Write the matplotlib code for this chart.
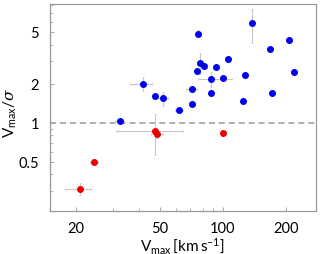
import matplotlib
matplotlib.use("Agg")
import matplotlib.pyplot as plt
from matplotlib.ticker import FixedLocator, FixedFormatter, LogLocator, NullFormatter

plt.rcParams["font.family"] = ["Lato", "DejaVu Sans"]
plt.rcParams["mathtext.fontset"] = "custom"
plt.rcParams["mathtext.rm"] = "Lato"
plt.rcParams["mathtext.it"] = "DejaVu Serif:italic"
plt.rcParams["mathtext.sf"] = "Lato"

blue_x = [32.2, 41.4, 47.6, 52.0, 61.9, 70.9, 70.9, 75.4, 76.5, 77.4, 81.5, 87.9, 87.3, 92.6,
          100.3, 105.2, 125.3, 127.3, 137.5, 167.4, 171.2, 206.9, 217.9]
blue_y = [1.03, 1.99, 1.61, 1.54, 1.26, 1.40, 1.81, 2.51, 4.84, 2.86, 2.74, 2.17, 1.69, 2.68,
          2.21, 3.09, 1.48, 2.34, 5.82, 3.73, 1.70, 4.33, 2.48]
blue_xlo = [1.5, 5.5, 0.8, 3.0, 3.0, 1.0, 4.0, 0.5, 0.5, 0.5, 0.5, 11.6, 0.5, 0.5,
            0.5, 0.5, 0.5, 0.5, 0.5, 5.0, 0.5, 0.5, 0.5]
blue_xhi = [1.5, 4.5, 0.8, 3.0, 3.0, 1.0, 4.0, 0.5, 0.5, 0.5, 0.5, 23.0, 0.5, 0.5,
            0.5, 0.5, 0.5, 0.5, 0.5, 5.0, 0.5, 0.5, 0.5]
blue_ylo = [0.04, 0.24, 0.03, 0.20, 0.03, 0.03, 0.10, 0.05, 0.25, 0.50, 0.03, 0.30, 0.03, 0.03,
            0.03, 0.03, 0.03, 0.03, 1.70, 0.10, 0.03, 0.03, 0.03]
blue_yhi = [0.04, 0.28, 0.03, 0.20, 0.03, 0.03, 0.10, 0.05, 0.30, 0.60, 0.03, 0.30, 0.03, 0.03,
            0.03, 0.03, 0.03, 0.03, 1.70, 0.10, 0.03, 0.03, 0.03]

red_x = [20.8, 24.3, 47.6, 48.6, 100.0]
red_y = [0.307, 0.499, 0.868, 0.814, 0.838]
red_xlo = [3.2, 1.0, 16.6, 3.0, 2.5]
red_xhi = [2.7, 1.0, 16.9, 3.0, 2.5]
red_ylo = [0.03, 0.01, 0.30, 0.05, 0.01]
red_yhi = [0.035, 0.01, 0.31, 0.05, 0.01]

xticks = [20, 50, 100, 200]
xticklabels = ["20", "50", "100", "200"]
yticks = [0.5, 1, 2, 5]
yticklabels = ["0.5", "1", "2", "5"]

fig = plt.figure(figsize=(3.27, 2.55), dpi=100)
ax = fig.add_axes([0.153, 0.1675, 0.8125, 0.8125])

ecol = "#c8c8c8"
ax.errorbar(blue_x, blue_y, xerr=[blue_xlo, blue_xhi], yerr=[blue_ylo, blue_yhi],
            fmt="o", color="#0000ee", ms=4.0, ecolor=ecol, elinewidth=0.8,
            capsize=1, capthick=0.6, zorder=3)
ax.errorbar(red_x, red_y, xerr=[red_xlo, red_xhi], yerr=[red_ylo, red_yhi],
            fmt="o", color="#ee0000", ms=4.0, ecolor=ecol, elinewidth=0.8,
            capsize=1, capthick=0.6, zorder=3)

ax.axhline(1.0, color="#999999", ls=(0, (4, 2.5)), lw=1.1, zorder=2)

ax.set_xscale("log")
ax.set_yscale("log")
ax.set_xlim(15.0, 277)
ax.set_ylim(0.208, 8.2)

ax.xaxis.set_major_locator(FixedLocator(xticks))
ax.xaxis.set_major_formatter(FixedFormatter(xticklabels))
ax.yaxis.set_major_locator(FixedLocator(yticks))
ax.yaxis.set_major_formatter(FixedFormatter(yticklabels))
ax.xaxis.set_minor_locator(LogLocator(base=10, subs=range(1, 10)))
ax.yaxis.set_minor_locator(LogLocator(base=10, subs=range(1, 10)))
ax.xaxis.set_minor_formatter(NullFormatter())
ax.yaxis.set_minor_formatter(NullFormatter())

ax.tick_params(which="both", direction="in", color="#999999", labelsize=10.5)
ax.tick_params(axis="x", which="both", pad=7)
ax.tick_params(axis="y", which="both", pad=8)
ax.tick_params(which="major", length=3, width=0.6)
ax.tick_params(which="minor", length=2, width=0.5)
for s in ax.spines.values():
    s.set_color("#999999")
    s.set_linewidth(0.9)

ax.set_xlabel(r"V$_{\rm max}$$\,$[km$\,$s$^{-1}$]", fontsize=11, va="center")
ax.xaxis.set_label_coords(0.5, -0.162)
ax.set_ylabel(r"V$_{\rm max}$/$\sigma$", fontsize=11, va="center")
ax.yaxis.set_label_coords(-0.148, 0.48)

fig.savefig("out.png", dpi=100)
